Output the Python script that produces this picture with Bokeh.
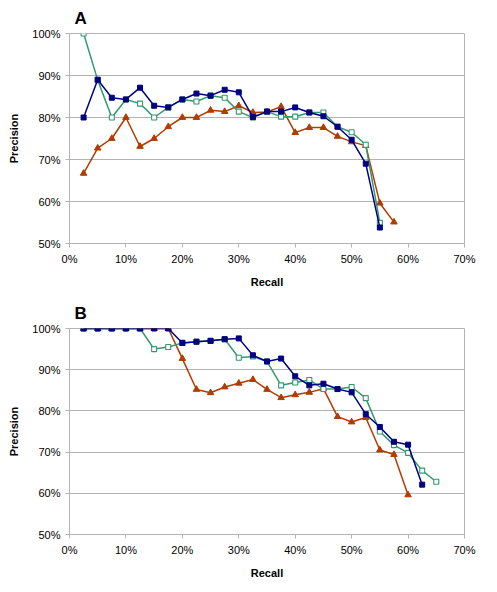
from bokeh.plotting import figure
from bokeh.layouts import column
from bokeh.models import FixedTicker, NumeralTickFormatter, Range1d
from bokeh.embed import file_html
from bokeh.resources import INLINE

# ---------------- data ----------------
recall_a = [2.5, 5, 7.5, 10, 12.5, 15, 17.5, 20, 22.5, 25, 27.5, 30, 32.5, 35, 37.5,
            40, 42.5, 45, 47.5, 50, 52.5, 55]
a_blue = [80.0, 89.0, 84.7, 84.3, 87.1, 82.8, 82.4, 84.3, 85.7, 85.2, 86.6, 86.0, 80.1, 81.4, 81.4,
          82.4, 81.2, 80.3, 77.8, 74.7, 69.0, 53.8]
a_green = [100.0, 88.9, 80.0, 84.3, 83.3, 80.0, 82.4, 84.3, 83.8, 85.2, 84.7, 81.4, 80.0, 81.4, 80.2,
           80.2, 81.2, 81.2, 77.8, 76.5, 73.5, 54.9]
recall_a_tri = [2.5, 5, 7.5, 10, 12.5, 15, 17.5, 20, 22.5, 25, 27.5, 30, 32.5, 35, 37.5,
                40, 42.5, 45, 47.5, 50, 52.5, 55, 57.5]
a_orange = [66.7, 72.7, 75.0, 80.0, 73.1, 75.0, 77.8, 80.0, 80.0, 81.7, 81.4, 82.8, 81.2, 81.3, 82.6,
            76.4, 77.6, 77.6, 75.5, 74.2, 73.3, 59.6, 55.1]

recall_b_blue = [2.5, 5, 7.5, 10, 12.5, 15, 17.5, 20, 22.5, 25, 27.5, 30, 32.5, 35, 37.5,
                 40, 42.5, 45, 47.5, 50, 52.5, 55, 57.5, 60, 62.5]
b_blue = [100, 100, 100, 100, 100, 100, 100, 96.5, 96.8, 97.0, 97.4, 97.6, 93.5, 92.0, 92.7,
          88.4, 86.2, 86.6, 85.3, 84.5, 79.2, 76.1, 72.5, 71.8, 62.1]
recall_b_green = [2.5, 5, 7.5, 10, 12.5, 15, 17.5, 20, 22.5, 25, 27.5, 30, 32.5, 35, 37.5,
                  40, 42.5, 45, 47.5, 50, 52.5, 55, 57.5, 60, 62.5, 65]
b_green = [100, 100, 100, 100, 100, 95.0, 95.5, 96.5, 96.8, 97.0, 97.4, 92.9, 93.2, 92.0, 86.2,
           86.9, 87.5, 85.3, 85.3, 85.8, 83.1, 75.0, 71.7, 69.8, 65.5, 62.8]
recall_b_orange = [2.5, 5, 7.5, 10, 12.5, 15, 17.5, 20, 22.5, 25, 27.5, 30, 32.5, 35, 37.5,
                   40, 42.5, 45, 47.5, 50, 52.5, 55, 57.5, 60]
b_orange = [100, 100, 100, 100, 100, 100, 100, 92.7, 85.2, 84.4, 85.8, 86.7, 87.6, 85.2, 83.2,
            83.9, 84.5, 85.4, 78.6, 77.3, 78.4, 70.5, 69.4, 59.6]

x_ticks = [0, 10, 20, 30, 40, 50, 60, 70]
y_ticks = [50, 60, 70, 80, 90, 100]

BLUE = "#000080"
GREEN = "#339970"
ORANGE = "#b03c00"
GRID = "#b4b4b4"
FONT = "Liberation Sans"


def to_frac(v):
    return [x / 100.0 for x in v]


def make_fig(label, frame_h, top, bottom):
    p = figure(frame_width=395, frame_height=frame_h, output_backend="svg", toolbar_location=None,
               x_range=Range1d(0, 0.70), y_range=Range1d(0.50, 1.0),
               min_border_left=69, min_border_right=26, min_border_top=top,
               min_border_bottom=bottom, title=label)
    p.title.text_font = FONT
    p.title.text_font_size = "17px"
    p.title.text_font_style = "bold"
    p.title.text_color = "#000000"
    p.title.align = "left"
    p.title.offset = 5
    p.title.standoff = 11
    p.outline_line_color = GRID
    p.outline_line_width = 1
    p.xgrid.grid_line_color = None
    p.ygrid.grid_line_color = GRID
    p.ygrid.grid_line_width = 1
    for ax in (p.xaxis[0], p.yaxis[0]):
        ax.axis_line_color = GRID
        ax.major_tick_line_color = GRID
        ax.minor_tick_line_color = None
        ax.major_tick_in = 0
        ax.major_tick_out = 4
        ax.major_label_text_font = FONT
        ax.major_label_text_font_size = "11px"
        ax.major_label_text_color = "#000000"
        ax.axis_label_text_font = FONT
        ax.axis_label_text_font_size = "11px"
        ax.axis_label_text_font_style = "bold"
        ax.axis_label_text_color = "#000000"
        ax.formatter = NumeralTickFormatter(format="0%")
    p.xaxis[0].ticker = FixedTicker(ticks=[t / 100 for t in x_ticks])
    p.yaxis[0].ticker = FixedTicker(ticks=[t / 100 for t in y_ticks])
    p.xaxis[0].axis_label = "Recall"
    p.yaxis[0].axis_label = "Precision"
    p.xaxis[0].axis_label_standoff = 8
    p.yaxis[0].axis_label_standoff = 9
    return p


def add_series(p, xs, ys, kind):
    x = to_frac(xs)
    y = to_frac(ys)
    if kind == "blue":
        p.line(x, y, line_color=BLUE, line_width=1.5)
        p.scatter(x, y, marker="square", size=5, fill_color=BLUE, line_color=BLUE)
    elif kind == "green":
        p.line(x, y, line_color=GREEN, line_width=1.5)
        p.scatter(x, y, marker="square", size=5, fill_color="white", line_color=GREEN, line_width=1.1)
    else:
        p.line(x, y, line_color=ORANGE, line_width=1.5)
        p.scatter(x, y, marker="triangle", size=6.5, fill_color=ORANGE, line_color=ORANGE)


pa = make_fig("A", 210, 33, 49)
add_series(pa, recall_a_tri, a_orange, "orange")
add_series(pa, recall_a, a_green, "green")
add_series(pa, recall_a, a_blue, "blue")

pb = make_fig("B", 206, 36, 56)
add_series(pb, recall_b_orange, b_orange, "orange")
add_series(pb, recall_b_green, b_green, "green")
add_series(pb, recall_b_blue, b_blue, "blue")

layout = column(pa, pb, spacing=0)
open("out.html", "w").write(file_html(layout, INLINE))
